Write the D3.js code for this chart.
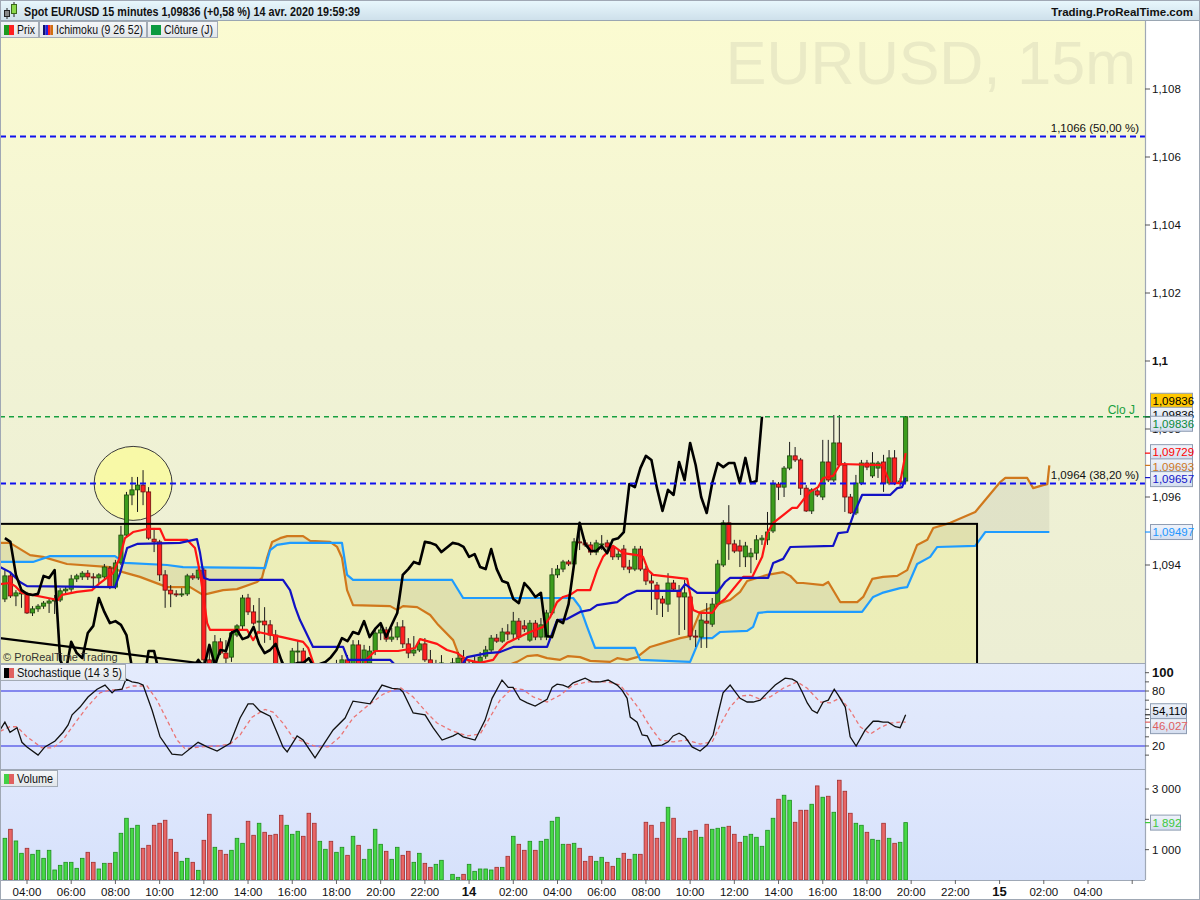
<!DOCTYPE html>
<html>
<head>
<meta charset="utf-8">
<script src="https://cdn.jsdelivr.net/npm/d3@7"></script>
<style>
  body { margin: 0; background: #fff; }
  svg { display: block; font-family: "Liberation Sans", Arial, sans-serif; }
</style>
</head>
<body>
<div id="chart"></div>
<script>
// ---- data ----
// 15 min candles, 13 avr. 03:00 -> 14 avr. 19:45 (no 23:00 bar on the 13th) : [open, high, low, close]
const ohlc = [
  [1.09300,1.09385,1.09291,1.09368],[1.09368,1.09379,1.09303,1.09309],[1.09309,1.09326,1.09279,1.09318],[1.09315,1.09326,1.09274,1.09318],
  [1.09315,1.09321,1.09256,1.09259],[1.09259,1.09279,1.09250,1.09271],[1.09271,1.09285,1.09262,1.09279],[1.09279,1.09294,1.09271,1.09288],
  [1.09288,1.09303,1.09259,1.09294],[1.09294,1.09312,1.09256,1.09297],[1.09297,1.09332,1.09291,1.09324],[1.09324,1.09338,1.09315,1.09329],
  [1.09329,1.09371,1.09321,1.09359],[1.09359,1.09374,1.09350,1.09368],[1.09365,1.09382,1.09356,1.09376],[1.09376,1.09385,1.09356,1.09365],
  [1.09365,1.09376,1.09338,1.09362],[1.09362,1.09376,1.09344,1.09371],[1.09365,1.09403,1.09356,1.09394],[1.09391,1.09397,1.09329,1.09335],
  [1.09335,1.09415,1.09329,1.09406],[1.09406,1.09515,1.09400,1.09488],[1.09488,1.09615,1.09482,1.09606],[1.09606,1.09659,1.09576,1.09621],
  [1.09621,1.09659,1.09556,1.09635],[1.09635,1.09679,1.09576,1.09615],[1.09615,1.09629,1.09474,1.09479],[1.09476,1.09509,1.09438,1.09468],
  [1.09468,1.09474,1.09353,1.09371],[1.09371,1.09385,1.09274,1.09326],[1.09326,1.09341,1.09276,1.09315],[1.09315,1.09326,1.09306,1.09312],
  [1.09312,1.09332,1.09306,1.09315],[1.09315,1.09374,1.09309,1.09368],[1.09368,1.09376,1.09356,1.09362],[1.09362,1.09391,1.09356,1.09385],
  [1.09385,1.09391,1.09026,1.09121],[1.09121,1.09150,1.09032,1.09085],[1.09085,1.09194,1.09076,1.09174],[1.09174,1.09185,1.09135,1.09141],
  [1.09141,1.09179,1.09106,1.09126],[1.09129,1.09209,1.09115,1.09200],[1.09194,1.09226,1.09188,1.09221],[1.09221,1.09312,1.09209,1.09303],
  [1.09303,1.09315,1.09253,1.09262],[1.09262,1.09282,1.09224,1.09229],[1.09232,1.09303,1.09197,1.09235],[1.09235,1.09276,1.09171,1.09224],
  [1.09224,1.09238,1.09179,1.09194],[1.09194,1.09209,1.09085,1.09097],[1.09097,1.09121,1.09003,1.09018],[1.09018,1.09062,1.08968,1.09038],
  [1.09038,1.09156,1.09026,1.09147],[1.09147,1.09179,1.09112,1.09147],[1.09147,1.09156,1.09062,1.09076],[1.09076,1.09097,1.08938,1.08968],
  [1.08968,1.09003,1.08926,1.08959],[1.08959,1.09032,1.08944,1.09009],[1.09009,1.09076,1.08997,1.09062],[1.09062,1.09085,1.09018,1.09038],
  [1.09038,1.09121,1.09026,1.09097],[1.09097,1.09135,1.09076,1.09121],[1.09121,1.09135,1.09076,1.09097],[1.09097,1.09179,1.09085,1.09165],
  [1.09165,1.09179,1.09097,1.09106],[1.09106,1.09165,1.09097,1.09150],[1.09112,1.09162,1.09097,1.09147],[1.09147,1.09215,1.09135,1.09200],
  [1.09200,1.09224,1.09179,1.09209],[1.09209,1.09218,1.09174,1.09182],[1.09182,1.09215,1.09174,1.09188],[1.09188,1.09232,1.09179,1.09218],
  [1.09218,1.09238,1.09156,1.09168],[1.09168,1.09185,1.09126,1.09141],[1.09141,1.09191,1.09132,1.09150],[1.09150,1.09179,1.09144,1.09168],
  [1.09168,1.09185,1.09115,1.09121],[1.09121,1.09150,1.09062,1.09085],[1.09085,1.09121,1.09068,1.09106],[1.09097,1.09135,1.09085,1.09112],
  // 13 avr. 23:15 ->
  [1.09085,1.09126,1.09074,1.09112],[1.09112,1.09144,1.09097,1.09126],[1.09126,1.09150,1.09085,1.09097],[1.09097,1.09121,1.09079,1.09109],
  [1.09109,1.09132,1.09097,1.09115],[1.09112,1.09144,1.09103,1.09129],[1.09132,1.09162,1.09124,1.09150],[1.09150,1.09194,1.09144,1.09185],
  [1.09185,1.09197,1.09171,1.09176],[1.09176,1.09215,1.09171,1.09203],[1.09203,1.09226,1.09179,1.09197],[1.09197,1.09262,1.09179,1.09235],
  [1.09235,1.09244,1.09179,1.09188],[1.09221,1.09238,1.09203,1.09212],[1.09179,1.09238,1.09174,1.09229],[1.09229,1.09238,1.09179,1.09188],
  [1.09188,1.09244,1.09179,1.09224],[1.09188,1.09268,1.09179,1.09259],[1.09259,1.09391,1.09253,1.09371],[1.09371,1.09400,1.09362,1.09388],
  [1.09388,1.09415,1.09379,1.09409],[1.09409,1.09415,1.09397,1.09403],[1.09403,1.09479,1.09397,1.09468],[1.09468,1.09524,1.09444,1.09465],
  [1.09465,1.09474,1.09453,1.09459],[1.09459,1.09468,1.09429,1.09438],[1.09438,1.09474,1.09429,1.09465],[1.09459,1.09488,1.09444,1.09462],
  [1.09465,1.09474,1.09444,1.09453],[1.09453,1.09459,1.09415,1.09424],[1.09424,1.09444,1.09415,1.09432],[1.09447,1.09459,1.09385,1.09394],
  [1.09394,1.09415,1.09376,1.09388],[1.09388,1.09456,1.09382,1.09447],[1.09447,1.09456,1.09382,1.09388],[1.09388,1.09397,1.09341,1.09353],
  [1.09353,1.09379,1.09268,1.09347],[1.09341,1.09350,1.09253,1.09300],[1.09300,1.09309,1.09247,1.09288],[1.09285,1.09376,1.09262,1.09347],
  [1.09347,1.09356,1.09326,1.09329],[1.09324,1.09341,1.09194,1.09306],[1.09306,1.09356,1.09209,1.09318],[1.09306,1.09315,1.09179,1.09191],
  [1.09191,1.09209,1.09159,1.09188],[1.09188,1.09262,1.09156,1.09238],[1.09235,1.09288,1.09156,1.09229],[1.09226,1.09303,1.09218,1.09285],
  [1.09285,1.09415,1.09279,1.09403],[1.09400,1.09532,1.09394,1.09524],[1.09524,1.09576,1.09415,1.09462],[1.09462,1.09474,1.09435,1.09441],
  [1.09456,1.09474,1.09394,1.09441],[1.09424,1.09468,1.09394,1.09456],[1.09424,1.09450,1.09376,1.09435],[1.09435,1.09488,1.09415,1.09474],
  [1.09474,1.09488,1.09459,1.09479],[1.09474,1.09556,1.09459,1.09497],[1.09500,1.09650,1.09494,1.09638],[1.09638,1.09644,1.09591,1.09629],
  [1.09629,1.09691,1.09600,1.09685],[1.09685,1.09762,1.09679,1.09721],[1.09721,1.09747,1.09703,1.09709],[1.09709,1.09715,1.09606,1.09626],
  [1.09626,1.09635,1.09556,1.09559],[1.09559,1.09626,1.09550,1.09621],[1.09618,1.09626,1.09600,1.09606],[1.09600,1.09768,1.09591,1.09703],
  [1.09703,1.09768,1.09644,1.09650],[1.09650,1.09841,1.09644,1.09759],[1.09759,1.09841,1.09691,1.09694],[1.09694,1.09703,1.09556,1.09600],
  [1.09600,1.09609,1.09550,1.09553],[1.09553,1.09665,1.09547,1.09641],[1.09641,1.09709,1.09635,1.09700],[1.09700,1.09709,1.09679,1.09688],
  [1.09662,1.09732,1.09656,1.09700],[1.09685,1.09706,1.09656,1.09700],[1.09703,1.09724,1.09615,1.09641],[1.09641,1.09738,1.09635,1.09715],
  [1.09715,1.09738,1.09635,1.09641],[1.09641,1.09656,1.09632,1.09647],[1.09647,1.09838,1.09641,1.09836]
];

const volumes = [
  1375,1672,1287,880,1045,847,979,715,979,330,484,583,583,385,715,913,583,363,550,550,
  913,1540,2035,1705,1804,1045,1144,1804,1870,1969,1342,913,616,715,583,319,1309,2167,1078,979,
  847,979,1375,1210,1936,1474,1870,1573,1474,1507,2134,1804,1507,1606,1441,2200,1870,1276,1012,1276,
  913,1078,814,1441,1144,682,1012,1672,1177,946,682,1078,814,946,583,880,550,418,517,649,
  187,88,
  187,517,286,363,363,330,418,418,781,1441,1177,979,1276,979,1276,1342,1936,2068,1177,1177,
  1210,1045,616,781,616,748,583,451,715,880,682,847,847,1903,1804,1375,1903,2398,2035,1375,
  1375,1606,1639,1408,1837,1672,1705,1738,1771,1507,1243,1441,1507,1408,1111,1639,2035,2662,2794,2629,
  1903,2299,2299,2497,3102,2728,2761,2233,3289,2926,2200,1870,1804,1573,1342,1309,1870,1375,1210,1243,1892
];

// Ichimoku (9 26 52) lines : [hours since 13 avr. 00:00, price]
const tenkan = [
  [2.78,1.09344],[3.23,1.09347],[3.46,1.09338],[3.77,1.09318],[5.40,1.09297],[5.58,1.09312],[6.26,1.09321],[6.94,1.09326],
  [7.30,1.09347],[7.89,1.09376],[8.21,1.09424],[8.43,1.09479],[8.80,1.09497],[9.43,1.09506],[10.02,1.09506],[10.24,1.09474],
  [11.24,1.09474],[11.60,1.09450],[11.83,1.09376],[12.15,1.09229],[12.28,1.09209],[13.96,1.09209],[14.23,1.09179],[14.45,1.09203],
  [15.54,1.09188],[16.49,1.09174],[16.72,1.09156],[17.03,1.09097],[17.71,1.09053],[19.07,1.09053],[19.34,1.09121],[19.75,1.09147],
  [20.79,1.09147],[21.56,1.09156],[21.78,1.09182],[22.55,1.09168],[23.00,1.09150],[23.46,1.09141],[23.91,1.09121],[24.50,1.09112],
  [25.09,1.09121],[25.40,1.09150],[25.72,1.09171],[26.17,1.09185],[26.76,1.09203],[27.35,1.09218],[27.67,1.09247],[27.98,1.09291],
  [28.25,1.09306],[28.57,1.09312],[28.89,1.09326],[29.48,1.09326],[29.79,1.09385],[30.06,1.09424],[30.52,1.09456],[30.97,1.09435],
  [31.60,1.09429],[31.87,1.09424],[32.10,1.09385],[32.33,1.09371],[33.87,1.09359],[34.14,1.09268],[34.45,1.09259],[35.00,1.09259],
  [35.27,1.09285],[35.58,1.09300],[36.40,1.09365],[36.81,1.09365],[37.26,1.09424],[37.49,1.09494],[37.76,1.09524],[38.21,1.09547],
  [38.62,1.09568],[38.84,1.09568],[39.11,1.09591],[39.43,1.09615],[39.79,1.09629],[40.02,1.09656],[40.47,1.09662],[40.79,1.09697],
  [42.69,1.09694],[43.05,1.09641],[43.50,1.09641],[43.75,1.09729]
];
const kijun = [
  [2.78,1.09394],[3.23,1.09379],[3.68,1.09350],[4.00,1.09338],[7.98,1.09335],[8.21,1.09376],[8.53,1.09450],[8.98,1.09462],
  [10.92,1.09465],[11.69,1.09476],[11.83,1.09435],[12.01,1.09362],[12.28,1.09356],[15.58,1.09356],[15.90,1.09326],[16.13,1.09276],
  [16.35,1.09238],[16.94,1.09159],[18.30,1.09159],[18.53,1.09121],[20.43,1.09121],[20.79,1.09097],[23.59,1.09097],[23.91,1.09129],
  [24.82,1.09141],[25.40,1.09144],[25.99,1.09159],[27.53,1.09159],[27.98,1.09238],[28.43,1.09241],[29.02,1.09262],[29.48,1.09268],
  [29.79,1.09282],[30.70,1.09291],[31.15,1.09312],[31.60,1.09324],[33.55,1.09324],[33.77,1.09344],[34.32,1.09318],[35.22,1.09318],
  [35.58,1.09350],[35.81,1.09362],[37.53,1.09362],[37.76,1.09406],[38.21,1.09418],[38.53,1.09453],[40.47,1.09456],[40.70,1.09494],
  [41.11,1.09497],[41.38,1.09547],[41.78,1.09606],[43.05,1.09606],[43.37,1.09626],[43.59,1.09629],[43.75,1.09657]
];
const senkouA = [
  [2.78,1.09465],[3.23,1.09465],[4.14,1.09429],[4.72,1.09424],[5.81,1.09403],[7.76,1.09394],[8.34,1.09379],[9.11,1.09365],
  [10.34,1.09335],[11.38,1.09335],[11.96,1.09312],[12.87,1.09326],[13.50,1.09329],[14.41,1.09350],[14.63,1.09362],[14.86,1.09421],
  [15.09,1.09468],[15.45,1.09479],[15.77,1.09485],[16.49,1.09485],[16.81,1.09471],[17.71,1.09468],[18.03,1.09453],[18.25,1.09421],
  [18.48,1.09326],[18.75,1.09282],[20.43,1.09279],[20.74,1.09268],[21.01,1.09279],[21.65,1.09276],[22.24,1.09253],[22.60,1.09224],
  [23.28,1.09179],[23.59,1.09126],[23.91,1.09103],[25.40,1.09097],[26.17,1.09115],[26.63,1.09132],[27.08,1.09135],[27.53,1.09126],
  [28.12,1.09121],[28.48,1.09132],[29.02,1.09129],[29.48,1.09118],[30.38,1.09115],[30.70,1.09126],[31.15,1.09121],[31.60,1.09129],
  [32.19,1.09159],[32.96,1.09174],[33.55,1.09185],[34.00,1.09191],[34.45,1.09262],[35.00,1.09276],[35.36,1.09288],[35.81,1.09297],
  [36.26,1.09321],[36.58,1.09353],[37.49,1.09371],[38.21,1.09379],[38.53,1.09368],[38.84,1.09347],[39.11,1.09347],[40.02,1.09341],
  [40.25,1.09350],[40.79,1.09291],[41.56,1.09291],[41.83,1.09306],[42.24,1.09359],[42.73,1.09365],[43.37,1.09368],[43.82,1.09385],
  [44.27,1.09459],[44.73,1.09474],[45.00,1.09509],[45.77,1.09524],[46.90,1.09556],[47.35,1.09591],[48.03,1.09644],[48.26,1.09656],
  [49.25,1.09656],[49.52,1.09626],[49.97,1.09635],[50.16,1.09638],[50.25,1.09693]
];
const senkouB = [
  [2.78,1.09409],[4.27,1.09409],[5.04,1.09426],[7.98,1.09426],[8.43,1.09406],[10.34,1.09400],[11.06,1.09394],[14.77,1.09391],
  [15.00,1.09444],[15.31,1.09459],[15.90,1.09465],[18.25,1.09465],[18.48,1.09371],[18.75,1.09356],[23.23,1.09356],[23.73,1.09303],
  [28.71,1.09303],[29.02,1.09276],[29.34,1.09218],[29.70,1.09156],[31.51,1.09156],[31.74,1.09121],[34.00,1.09115],[34.45,1.09185],
  [35.00,1.09185],[35.36,1.09203],[36.58,1.09206],[36.85,1.09218],[37.08,1.09259],[37.49,1.09262],[41.78,1.09262],[42.28,1.09306],
  [42.69,1.09318],[43.50,1.09332],[43.82,1.09335],[44.27,1.09403],[44.86,1.09424],[45.18,1.09453],[46.90,1.09456],[47.35,1.09497],
  [50.25,1.09497]
];

// Stochastique (14 3 5) : [hours, value]
const stochK = [
  [2.78,37.5],[3.00,46],[3.23,35],[3.55,40],[3.77,24],[4.00,19],[4.50,10],[4.81,19],[5.27,25.5],[5.63,35],[5.86,43],[6.04,54],
  [6.40,62.5],[6.76,73.5],[7.17,82],[7.53,86.5],[7.85,78],[7.98,81],[8.30,82],[8.48,93],[8.75,90],[9.02,89],[9.25,86.5],[9.66,59],
  [10.02,30],[10.56,11],[11.01,10],[11.74,24],[12.15,19],[12.60,14.5],[13.19,23],[13.64,50.5],[14.00,66],[14.23,66],[14.54,58],[15.00,52.5],
  [15.36,32],[15.58,19],[15.77,13.5],[16.22,31],[16.49,26.5],[17.03,7],[17.48,24],[17.85,37.5],[18.39,50.5],[18.75,69],[19.52,66],[20.06,86.5],
  [20.52,83],[20.88,82],[21.01,79],[21.47,56],[22.01,54],[22.37,40],[22.78,26.5],[23.28,31],[23.50,34],[23.73,30],[24.27,26.5],[24.72,48],
  [25.04,72],[25.49,92],[25.77,84],[25.99,84],[26.31,71],[26.63,67],[26.99,63.5],[27.53,71],[27.76,84],[27.98,87.5],[28.25,86.5],[28.48,84],
  [28.71,89],[29.25,94],[29.57,90],[29.93,90],[30.29,92],[30.70,86.5],[30.92,81],[31.15,72],[31.29,51.5],[31.60,46],[31.83,32],[32.06,31],
  [32.28,20],[32.73,21],[33.01,24.5],[33.23,31],[33.50,34],[33.77,30],[34.09,19],[34.45,14.5],[34.77,21],[35.04,32],[35.27,56],[35.49,78],
  [35.81,86.5],[36.04,79],[36.26,72],[36.58,68],[36.85,68],[37.17,70],[37.49,78],[37.85,86.5],[38.30,94],[38.62,93],[38.84,90],[39.07,79],
  [39.30,67],[39.52,59],[39.75,56],[40.02,68],[40.25,70],[40.52,82],[40.70,75.5],[41.02,62.5],[41.24,30],[41.51,20],[41.92,37.5],[42.28,47],
  [42.51,47],[42.73,46],[42.96,46],[43.28,41],[43.50,40],[43.75,54.11]
];
const stochD = [
  [2.78,36],[3.23,41],[3.55,41],[4.00,30],[4.68,18],[5.18,18],[5.63,26.5],[6.17,45],[6.72,62.5],[7.30,78],[7.76,81],[8.21,81.5],
  [8.80,85.5],[9.43,85.5],[9.88,70],[10.34,48],[10.79,26.5],[11.15,17],[11.83,19],[12.60,20],[13.19,22],[13.64,32],[14.18,51.5],[14.77,60],
  [15.13,57],[15.58,45],[16.04,29],[16.67,23],[17.12,19],[17.62,19],[18.16,30],[18.75,50.5],[19.39,63.5],[20.11,76.5],[20.88,84],[21.47,73.5],
  [22.10,56],[22.55,45],[23.14,37.5],[23.91,31],[24.50,33],[24.95,51.5],[25.40,70],[25.95,83],[26.44,81.5],[26.90,73.5],[27.53,68],[28.12,75.5],
  [28.71,86.5],[29.34,90],[30.25,90],[30.83,86.5],[31.29,73.5],[31.74,59],[32.19,41],[32.64,26.5],[33.23,24.5],[33.87,26.5],[34.45,22],[35.00,24.5],
  [35.36,43],[35.81,62.5],[36.26,74.5],[36.72,75.5],[37.17,71],[37.62,73.5],[38.21,83],[38.84,90],[39.30,83],[39.88,68],[40.34,67],[40.79,72.5],
  [41.24,59],[41.69,41],[42.15,33],[42.60,40],[43.05,45],[43.50,46],[43.75,46.027]
];

// drawings on the price chart
const trendLine = [[2.78, 1.09185], [16.0, 1.09077]];
const zoneBox = { from: 0, to: 46.98, top: 1.09521, bottom: 1.0880 };
const circleMark = { at: 8.8, price: 1.0964 };
const levels = [
  { value: 1.1066, label: "1,1066 (50,00 %)", kind: "fibo" },
  { value: 1.0964, label: "1,0964 (38,20 %)", kind: "fibo" },
  { value: 1.09836, label: "Clo J", kind: "close" }
];

const priceTicks = [1.094, 1.096, 1.098, 1.100, 1.102, 1.104, 1.106, 1.108];
const stochTicks = [10, 20, 30, 40, 50, 60, 70, 80, 90, 100];
const stochLabels = [20, 80, 100];
const volTicks = [1000, 2000, 3000];
const volLabels = [1000, 3000];

// last values shown in boxes on the right axis
const priceBoxes = [
  { value: 1.09836, color: "#000", fill: "#ffc800", dy: -16 },
  { value: 1.09836, color: "#000", dy: -2 },
  { value: 1.09836, color: "#0c8a3a", dy: 7 },
  { value: 1.09729, color: "#ff0000", dy: -1 },
  { value: 1.09693, color: "#d0781c", dy: 1 },
  { value: 1.09657, color: "#1414c8", dy: 1.5 },
  { value: 1.09497, color: "#1e96ff", dy: 0 }
];
const stochBoxes = [
  { value: 54.110, color: "#000", dy: -3.5, txt: "54,110" },
  { value: 46.027, color: "#e06060", dy: 4, txt: "46,027" }
];

// ---- layout ----
const W = 1200, H = 900;
const plotR = 1145;
const mainTop = 21, mainBot = 663, stochBot = 769, volBot = 880;

const t0 = new Date(2020, 3, 13, 0, 0);
const at = h => new Date(t0.getTime() + h * 3600e3);

const barTimes = d3.timeMinute.every(15).range(at(3), at(44))
  .filter(t => !(t.getDate() === 13 && t.getHours() === 23 && t.getMinutes() === 0));
const bars = ohlc.map((d, i) => ({ t: barTimes[i], o: d[0], h: d[1], l: d[2], c: d[3], v: volumes[i] }));

const x = d3.scaleTime().domain([at(4), at(52)]).range([27, 1088]);
const y = d3.scaleLinear().domain([1.094, 1.108]).range([565, 89]);
const ys = d3.scaleLinear().domain([0, 100]).range([764.3, 672.7]);
const yv = d3.scaleLinear().domain([0, 3000]).range([volBot, 789]);

const svg = d3.select("#chart").append("svg").attr("width", W).attr("height", H);
const defs = svg.append("defs");

function grad(id, stops) {
  const g = defs.append("linearGradient").attr("id", id)
    .attr("x1", 0).attr("y1", 0).attr("x2", 0).attr("y2", 1);
  stops.forEach(([o, c]) => g.append("stop").attr("offset", o).attr("stop-color", c));
}
grad("gMain", [["0%", "#fbfbd1"], ["50%", "#f1f3d5"], ["100%", "#eceed4"]]);
grad("gStoch", [["0%", "#e4ebfd"], ["100%", "#dce5fb"]]);
grad("gVol", [["0%", "#e0e8fd"], ["100%", "#d6e1fb"]]);
grad("gHead", [["0%", "#e9f8fd"], ["100%", "#cddfea"]]);
grad("gBtn", [["0%", "#f5f7f9"], ["100%", "#e1e5e9"]]);
grad("gBox", [["0%", "#f0f4fb"], ["100%", "#d3ddef"]]);

function clip(id, y0, y1) {
  defs.append("clipPath").attr("id", id).append("rect")
    .attr("x", 0).attr("y", y0).attr("width", plotR).attr("height", y1 - y0);
}
clip("cMain", mainTop, mainBot);
clip("cStoch", mainBot, stochBot);
clip("cVol", stochBot, volBot);

svg.append("rect").attr("width", W).attr("height", H).attr("fill", "#fff");

// pane backgrounds
svg.append("rect").attr("x", 0).attr("y", mainTop).attr("width", plotR).attr("height", mainBot - mainTop).attr("fill", "url(#gMain)");
svg.append("rect").attr("x", 0).attr("y", mainBot).attr("width", plotR).attr("height", stochBot - mainBot).attr("fill", "url(#gStoch)");
svg.append("rect").attr("x", 0).attr("y", stochBot).attr("width", plotR).attr("height", volBot - stochBot).attr("fill", "url(#gVol)");

// watermark
svg.append("text").attr("x", 1136).attr("y", 84).attr("text-anchor", "end")
  .attr("font-size", 61).attr("fill", "#eaeac6").text("EURUSD, 15m");

// ---- main pane ----
const main = svg.append("g").attr("clip-path", "url(#cMain)");
const ptLine = d3.line().x(d => x(at(d[0]))).y(d => y(d[1]));

// yellow zone
main.append("rect")
  .attr("x", x(at(zoneBox.from))).attr("y", y(zoneBox.top))
  .attr("width", x(at(zoneBox.to)) - x(at(zoneBox.from)))
  .attr("height", y(zoneBox.bottom) - y(zoneBox.top))
  .attr("fill", "rgba(236,236,96,0.24)");

// kumo
main.append("path")
  .attr("d", ptLine(senkouA.concat(senkouB.slice().reverse())) + "Z")
  .attr("fill", "rgba(120,120,100,0.11)").attr("fill-rule", "evenodd");

// circle
main.append("ellipse")
  .attr("cx", x(at(circleMark.at))).attr("cy", y(circleMark.price))
  .attr("rx", 39).attr("ry", 37)
  .attr("fill", "rgba(255,255,130,0.55)").attr("stroke", "#3a3a3a").attr("stroke-width", 1);

[[senkouA, "#d0781c"], [senkouB, "#1e9cff"]].forEach(([pts, col]) => {
  main.append("path").attr("d", ptLine(pts)).attr("fill", "none")
    .attr("stroke", col).attr("stroke-width", 2.2).attr("stroke-linejoin", "round");
});

// candles
const cg = main.append("g");
cg.selectAll("line.wick").data(bars).join("line").attr("class", "wick")
  .attr("x1", d => x(d.t)).attr("x2", d => x(d.t))
  .attr("y1", d => y(d.h)).attr("y2", d => y(d.l))
  .attr("stroke", "#1a1a1a").attr("stroke-width", 1);
cg.selectAll("rect.body").data(bars).join("rect").attr("class", "body")
  .attr("x", d => x(d.t) - 2.1).attr("width", 4.2)
  .attr("y", d => y(Math.max(d.o, d.c)))
  .attr("height", d => Math.max(1, Math.abs(y(d.o) - y(d.c))))
  .attr("fill", d => d.c >= d.o ? "#3c9c1c" : "#ff2020")
  .attr("stroke", d => d.c >= d.o ? "#1c4a0c" : "#6a1010").attr("stroke-width", 0.8);

main.append("path").attr("d", ptLine(tenkan)).attr("fill", "none")
  .attr("stroke", "#ff1414").attr("stroke-width", 2.2).attr("stroke-linejoin", "round");
main.append("path").attr("d", ptLine(kijun)).attr("fill", "none")
  .attr("stroke", "#1212c4").attr("stroke-width", 2.2).attr("stroke-linejoin", "round");

// chikou : close plotted 26 bars back
const chikou = bars.slice(26).map((d, i) => [bars[i].t, d.c]);
main.append("path")
  .attr("d", d3.line().x(d => x(d[0])).y(d => y(d[1]))(chikou))
  .attr("fill", "none").attr("stroke", "#000").attr("stroke-width", 2.6).attr("stroke-linejoin", "round");

main.append("path").attr("d", ptLine(trendLine)).attr("fill", "none")
  .attr("stroke", "#000").attr("stroke-width", 2.2);

main.append("rect")
  .attr("x", x(at(zoneBox.from))).attr("y", y(zoneBox.top))
  .attr("width", x(at(zoneBox.to)) - x(at(zoneBox.from)))
  .attr("height", y(zoneBox.bottom) - y(zoneBox.top))
  .attr("fill", "none").attr("stroke", "#000").attr("stroke-width", 2);

// horizontal levels
levels.forEach(lv => {
  const fibo = lv.kind === "fibo";
  main.append("line").attr("x1", 0).attr("x2", plotR)
    .attr("y1", y(lv.value)).attr("y2", y(lv.value))
    .attr("stroke", fibo ? "#1010f0" : "#18a040")
    .attr("stroke-width", fibo ? 2 : 1.6)
    .attr("stroke-dasharray", fibo ? "6,4" : "5,4");
  main.append("text").attr("x", fibo ? 1139 : 1135).attr("y", y(lv.value) - (fibo ? 4.5 : 3))
    .attr("text-anchor", "end").attr("font-size", fibo ? 11.5 : 12)
    .attr("fill", fibo ? "#111" : "#18a040").text(lv.label);
});

svg.append("text").attr("x", 3).attr("y", 661).attr("font-size", 11).attr("fill", "#333")
  .text("© ProRealTime Trading");

// ---- stochastic pane ----
const st = svg.append("g").attr("clip-path", "url(#cStoch)");
[20, 80].forEach(v => st.append("line").attr("x1", 0).attr("x2", plotR)
  .attr("y1", ys(v)).attr("y2", ys(v)).attr("stroke", "#2626e0").attr("stroke-width", 1.2));
const stLine = d3.line().x(d => x(at(d[0]))).y(d => ys(d[1]));
st.append("path").attr("d", stLine(stochD)).attr("fill", "none")
  .attr("stroke", "#ea7676").attr("stroke-width", 1.3).attr("stroke-dasharray", "4,3");
st.append("path").attr("d", stLine(stochK)).attr("fill", "none")
  .attr("stroke", "#111").attr("stroke-width", 1.3);

// ---- volume pane ----
const vg = svg.append("g").attr("clip-path", "url(#cVol)");
vg.selectAll("rect").data(bars).join("rect")
  .attr("x", d => x(d.t) - 1.8).attr("width", 3.6)
  .attr("y", d => yv(d.v)).attr("height", d => yv(0) - yv(d.v))
  .attr("fill", d => d.c >= d.o ? "#46d846" : "#e86666")
  .attr("stroke", d => d.c >= d.o ? "#1e8e1e" : "#a02e2e").attr("stroke-width", 0.8);

// pane borders
const sep = "#9fa8b6";
[mainBot, stochBot, volBot].forEach(yy => svg.append("line")
  .attr("x1", 0).attr("x2", plotR).attr("y1", yy + 0.5).attr("y2", yy + 0.5)
  .attr("stroke", sep).attr("stroke-width", 1.2));
svg.append("line").attr("x1", plotR + 0.5).attr("x2", plotR + 0.5)
  .attr("y1", mainTop).attr("y2", volBot).attr("stroke", sep).attr("stroke-width", 1.2);

// ---- x axis ----
const xTicks = d3.timeHour.every(2).range(at(4), at(54.1));
const xa = svg.append("g");
xa.selectAll("line").data(xTicks).join("line")
  .attr("x1", d => x(d)).attr("x2", d => x(d)).attr("y1", volBot).attr("y2", volBot + 4)
  .attr("stroke", "#666");
xa.selectAll("text").data(xTicks.filter(d => x(d) < 1120)).join("text")
  .attr("x", d => x(d)).attr("y", 895.5).attr("text-anchor", "middle")
  .attr("font-size", d => d.getHours() === 0 ? 13 : 11.5)
  .attr("font-weight", d => d.getHours() === 0 ? "bold" : "normal")
  .attr("fill", "#111")
  .text(d => d.getHours() === 0 ? d3.timeFormat("%-d")(d) : d3.timeFormat("%H:%M")(d));

// ---- right axes ----
const ra = svg.append("g").attr("font-size", 11.5).attr("fill", "#111");
const frNum = v => String(+v.toFixed(3)).replace(".", ",");
priceTicks.forEach(v => {
  ra.append("line").attr("x1", plotR).attr("x2", plotR + 5).attr("y1", y(v)).attr("y2", y(v)).attr("stroke", "#555");
  ra.append("text").attr("x", 1152).attr("y", y(v)).attr("dy", "0.35em")
    .attr("font-weight", v === 1.1 ? "bold" : "normal").text(frNum(v));
});
stochTicks.forEach(v => ra.append("line").attr("x1", plotR).attr("x2", plotR + 4)
  .attr("y1", ys(v)).attr("y2", ys(v)).attr("stroke", "#555"));
stochLabels.forEach(v => ra.append("text").attr("x", 1152).attr("y", ys(v)).attr("dy", "0.35em")
  .attr("font-weight", v === 100 ? "bold" : "normal").attr("font-size", v === 100 ? 13 : 11.5).text(v));
volTicks.forEach(v => ra.append("line").attr("x1", plotR).attr("x2", plotR + 4)
  .attr("y1", yv(v)).attr("y2", yv(v)).attr("stroke", "#555"));
volLabels.forEach(v => ra.append("text").attr("x", 1152).attr("y", yv(v)).attr("dy", "0.35em")
  .text(d3.format(",")(v).replace(",", " ")));

function valueBox(yTrue, dy, txt, color, fill, w) {
  const g = svg.append("g");
  g.append("line").attr("x1", plotR).attr("x2", plotR + 5).attr("y1", yTrue).attr("y2", yTrue)
    .attr("stroke", color === "#000" ? "#333" : color).attr("stroke-width", 1.2);
  g.append("rect").attr("x", 1150.5).attr("y", yTrue + dy - 7.5).attr("width", w).attr("height", 15)
    .attr("fill", fill || "url(#gBox)").attr("stroke", "#8e9cb2");
  g.append("text").attr("x", 1152.5).attr("y", yTrue + dy).attr("dy", "0.36em")
    .attr("font-size", 11.5).attr("fill", color).text(txt);
}
priceBoxes.forEach(b => valueBox(y(b.value), b.dy, b.value.toFixed(5).replace(".", ","), b.color, b.fill, 42));
stochBoxes.forEach(b => valueBox(ys(b.value), b.dy, b.txt, b.color, null, 36));
valueBox(yv(volumes[volumes.length - 1]), 0, d3.format(",")(volumes[volumes.length - 1]).replace(",", " "), "#3cc83c", null, 30);

// ---- header ----
svg.append("rect").attr("x", 0).attr("y", 0).attr("width", W).attr("height", mainTop)
  .attr("fill", "url(#gHead)");
svg.append("line").attr("x1", 0).attr("x2", W).attr("y1", mainTop - 0.5).attr("y2", mainTop - 0.5)
  .attr("stroke", "#9aa6b2");
const ic = svg.append("g");
ic.append("line").attr("x1", 7).attr("x2", 7).attr("y1", 8).attr("y2", 19).attr("stroke", "#222");
ic.append("rect").attr("x", 4.5).attr("y", 10.5).attr("width", 5).attr("height", 6).attr("fill", "#888").attr("stroke", "#222");
ic.append("line").attr("x1", 14).attr("x2", 14).attr("y1", 2).attr("y2", 17).attr("stroke", "#222");
ic.append("rect").attr("x", 11.5).attr("y", 4.5).attr("width", 5).attr("height", 9).attr("fill", "#8cd84c").attr("stroke", "#3a6a1a");
svg.append("text").attr("x", 24).attr("y", 15.5).attr("font-size", 12.5).attr("font-weight", "bold")
  .attr("textLength", 336).attr("lengthAdjust", "spacingAndGlyphs")
  .attr("fill", "#111").text("Spot EUR/USD 15 minutes 1,09836 (+0,58 %) 14 avr. 2020 19:59:39");
svg.append("text").attr("x", 1193).attr("y", 15.5).attr("text-anchor", "end").attr("font-size", 11.5)
  .attr("font-weight", "bold").attr("fill", "#111").text("Trading.ProRealTime.com");

// ---- legend buttons ----
function button(x0, y0, w, label, tw, colors) {
  const g = svg.append("g");
  g.append("rect").attr("x", x0 + 0.5).attr("y", y0 + 0.5).attr("width", w).attr("height", 16)
    .attr("fill", "url(#gBtn)").attr("stroke", "#a3abb5");
  const cw = 10 / colors.length;
  colors.forEach((c, i) => g.append("rect").attr("x", x0 + 4 + i * cw).attr("y", y0 + 4)
    .attr("width", cw).attr("height", 10).attr("fill", c));
  g.append("text").attr("x", x0 + 17).attr("y", y0 + 13).attr("font-size", 12.5).attr("fill", "#111")
    .attr("textLength", tw).attr("lengthAdjust", "spacingAndGlyphs").text(label);
}
button(0, 21, 38, "Prix", 18, ["#1e9a1e", "#ff2020"]);
button(39, 21, 107, "Ichimoku (9 26 52)", 87, ["#101070", "#2020e0", "#ff2020", "#d07010"]);
button(147, 21, 70, "Clôture (J)", 49, ["#0c9a40"]);
button(0, 664, 125, "Stochastique (14 3 5)", 105, ["#000", "#e06060"]);
button(0, 770, 57, "Volume", 36, ["#44d044", "#e06060"]);

// outer frame
svg.append("rect").attr("x", 0.5).attr("y", 0.5).attr("width", W - 1).attr("height", H - 1)
  .attr("fill", "none").attr("stroke", "#a0a8b4");
</script>
</body>
</html>
